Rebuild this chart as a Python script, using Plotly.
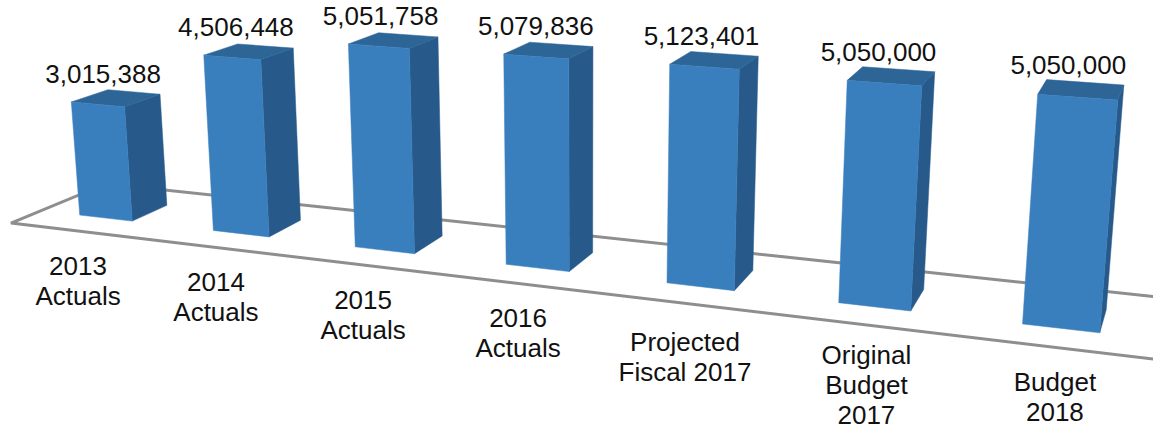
import numpy as np
import plotly.graph_objects as go

categories = ["2013<br>Actuals", "2014<br>Actuals", "2015<br>Actuals", "2016<br>Actuals",
              "Projected<br>Fiscal 2017", "Original<br>Budget<br>2017", "Budget<br>2018"]
values = [3015388, 4506448, 5051758, 5079836, 5123401, 5050000, 5050000]

# Camera matrix taking (bar index, depth, millions) to page coordinates
CAMERA = np.array([
    [1.28200887e+02, 3.95757012e+01, -3.19920658e+00, 1.05830167e+02],
    [8.79627090e+00, -9.29635180e+00, -3.82967718e+01, 2.18062318e+02],
    [-2.91969385e-02, 3.09745589e-02, -5.48073431e-03, 1.0],
])
BAR_WIDTH = 0.40
BAR_DEPTH = 1.0
FLOOR_X = (-0.50, 6.90)
FLOOR_Y = (-0.78, 1.82)
# Floor-plane anchor of each category label block
LABEL_ANCHORS = [(0.628, -2.953), (1.522, -2.877), (2.432, -2.836), (3.329, -2.759),
                 (4.260, -2.842), (5.204, -3.000), (6.081, -2.579)]
VALUE_SHIFT = (-13.0, -22.0)
LABEL_DROP = 1.5
LINE_STEP = 30.0

FRONT, SIDE, TOP = "#3A7FBD", "#275A8A", "#2C6596"
TEXT = "#111111"
FLOOR = "#8E8E8E"
FONT = dict(family="Liberation Sans", size=26, color=TEXT)


def project(x, y, z=0.0):
    u, v, w = CAMERA @ np.array([x, y, z, 1.0])
    return u / w, v / w


def polygons(faces):
    xs, ys = [], []
    for face in faces:
        pts = [project(*p) for p in face]
        xs += [p[0] for p in pts] + [pts[0][0], None]
        ys += [p[1] for p in pts] + [pts[0][1], None]
    return xs, ys


fronts, sides, tops = [], [], []
for i, v in enumerate(values):
    h = v / 1e6
    a, b = i - BAR_WIDTH / 2, i + BAR_WIDTH / 2
    fronts.append([(a, 0, 0), (b, 0, 0), (b, 0, h), (a, 0, h)])
    sides.append([(b, 0, 0), (b, BAR_DEPTH, 0), (b, BAR_DEPTH, h), (b, 0, h)])
    tops.append([(a, 0, h), (b, 0, h), (b, BAR_DEPTH, h), (a, BAR_DEPTH, h)])

fig = go.Figure()

# Floor outline, running off the right-hand edge
x0, x1 = FLOOR_X
y0, y1 = FLOOR_Y
corners = [project(x1, y0), project(x0, y0), project(x0, y1), project(x1, y1)]
fig.add_trace(go.Scatter(
    x=[c[0] for c in corners], y=[c[1] for c in corners], mode="lines",
    line=dict(color=FLOOR, width=3), hoverinfo="skip",
))

for faces, colour in ((sides, SIDE), (tops, TOP), (fronts, FRONT)):
    xs, ys = polygons(faces)
    fig.add_trace(go.Scatter(
        x=xs, y=ys, mode="lines", fill="toself", fillcolor=colour,
        line=dict(color=colour, width=0.5), hoverinfo="skip",
    ))

# Value labels float a fixed distance above each bar's top face
tops_c = [project(i, BAR_DEPTH / 2, v / 1e6) for i, v in enumerate(values)]
fig.add_trace(go.Scatter(
    x=[c[0] + VALUE_SHIFT[0] for c in tops_c],
    y=[c[1] + VALUE_SHIFT[1] for c in tops_c],
    mode="text", text=[f"{v:,}" for v in values], textposition="middle center",
    textfont=FONT, hoverinfo="skip",
))

# Category labels, one text per line so the leading stays tight
lx, ly, lt = [], [], []
for label, anchor in zip(categories, LABEL_ANCHORS):
    cx, cy = project(*anchor)
    lines = label.split("<br>")
    for k, line in enumerate(lines):
        lx.append(cx)
        ly.append(cy + LABEL_DROP + (k - (len(lines) - 1) / 2) * LINE_STEP)
        lt.append(line)
fig.add_trace(go.Scatter(
    x=lx, y=ly, mode="text", text=lt, textposition="middle center",
    textfont=FONT, hoverinfo="skip",
))

hidden = dict(visible=False, showgrid=False, zeroline=False)
fig.update_layout(
    width=1153, height=434, margin=dict(l=0, r=0, t=0, b=0), showlegend=False,
    paper_bgcolor="white", plot_bgcolor="white",
    xaxis=dict(range=[0, 1153], **hidden),
    yaxis=dict(range=[434, 0], **hidden),
)
fig.write_html("out.html")
